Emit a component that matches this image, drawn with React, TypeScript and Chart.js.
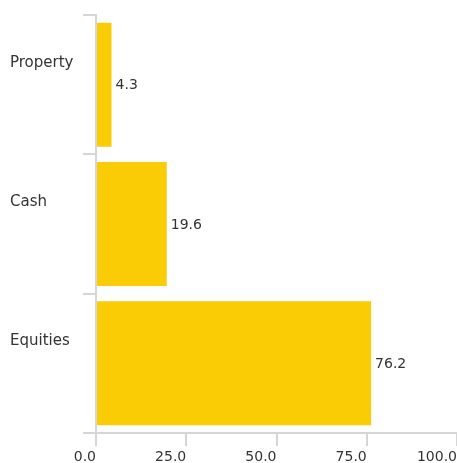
import React, { useEffect, useRef } from "react";
import { Chart, registerables } from "chart.js";

Chart.register(...registerables);

const categories = ["Property", "Cash", "Equities"];
const values = [4.3, 19.6, 76.2];
const xTicks = [0, 25, 50, 75, 100];

const FONT = "'DejaVu Sans', sans-serif";
const GRID = "#d6d6d6";
const BAR = "#facc06";
const TEXT = "#333333";

const valueLabels = {
  id: "valueLabels",
  afterDatasetsDraw(chart: any) {
    const ctx = chart.ctx;
    const meta = chart.getDatasetMeta(0);
    ctx.save();
    ctx.font = `14px ${FONT}`;
    ctx.fillStyle = TEXT;
    ctx.textAlign = "left";
    ctx.textBaseline = "middle";
    meta.data.forEach((el: any, i: number) => {
      ctx.fillText(values[i].toFixed(1), el.x + 4, el.y + 1);
    });
    ctx.restore();
  },
};

export default function App() {
  const ref = useRef<HTMLCanvasElement>(null);
  useEffect(() => {
    const chart = new Chart(ref.current!, {
      type: "bar",
      data: {
        labels: categories,
        datasets: [
          {
            data: values,
            backgroundColor: BAR,
            borderWidth: 0,
            barPercentage: 1,
            categoryPercentage: 0.89,
          },
        ],
      },
      options: {
        indexAxis: "y",
        animation: false,
        responsive: false,
        maintainAspectRatio: false,
        layout: { padding: { top: 15, right: 0, left: 10, bottom: 0 } },
        plugins: { legend: { display: false }, tooltip: { enabled: false } },
        scales: {
          x: {
            min: 0,
            max: 100,
            afterBuildTicks: (s: any) => {
              s.ticks = xTicks.map((v) => ({ value: v }));
            },
            afterFit: (s: any) => {
              s.height = 30;
              s.paddingRight = 0;
            },
            grid: {
              drawOnChartArea: false,
              color: GRID,
              lineWidth: 2,
              tickLength: 13,
            },
            border: { color: GRID, width: 2 },
            ticks: {
              align: "end",
              padding: 3,
              color: TEXT,
              font: { family: FONT, size: 14 },
              callback: (v: any) => Number(v).toFixed(1),
            },
          },
          y: {
            afterFit: (s: any) => {
              s.width = 86;
              s.paddingTop = 0;
              s.paddingBottom = 0;
            },
            grid: {
              drawOnChartArea: false,
              color: GRID,
              lineWidth: 2,
              tickLength: 13,
              offset: true,
            },
            border: { color: GRID, width: 2 },
            ticks: {
              labelOffset: -22,
              crossAlign: "far",
              padding: 8,
              color: TEXT,
              font: { family: FONT, size: 15 },
            },
          },
        },
      },
      plugins: [valueLabels],
    });
    return () => chart.destroy();
  }, []);
  return (
    <div style={{ position: "fixed", left: 0, top: 0, width: 457, height: 463 }}>
      <canvas ref={ref} width={457} height={463} />
    </div>
  );
}
